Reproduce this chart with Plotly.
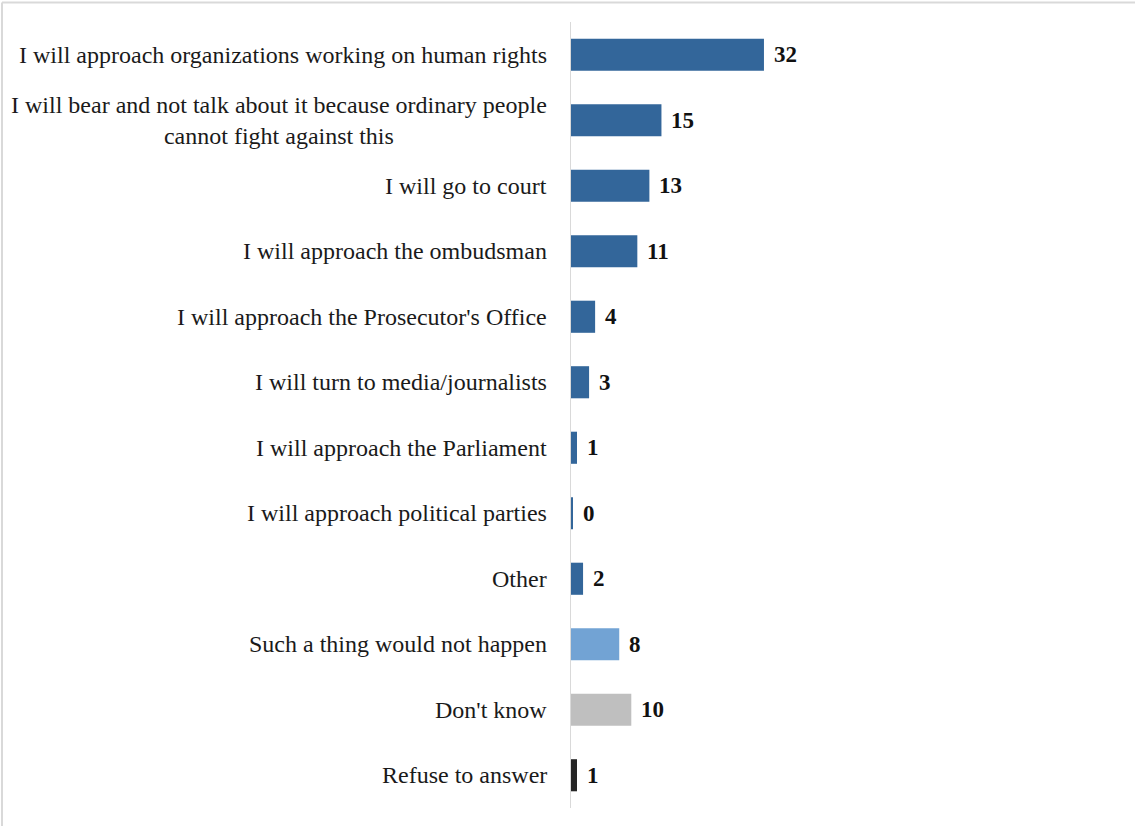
import plotly.graph_objects as go

categories = [
    "I will approach organizations working on human rights",
    "I will bear and not talk about it because ordinary people<br>cannot fight against this",
    "I will go to court",
    "I will approach the ombudsman",
    "I will approach the Prosecutor's Office",
    "I will turn to media/journalists",
    "I will approach the Parliament",
    "I will approach political parties",
    "Other",
    "Such a thing would not happen",
    "Don't know",
    "Refuse to answer",
]
values = [32, 15, 13, 11, 4, 3, 1, 0.3, 2, 8, 10, 1]
value_labels = ["32", "15", "13", "11", "4", "3", "1", "0", "2", "8", "10", "1"]
bar_colors = ["#33669A"] * 9 + ["#72A3D4", "#BFBFBF", "#262626"]

W, H = 1135, 826
L, R, T, B = 571, 25, 22, 18
pw, ph = W - L - R, H - T - B
FONT = "Liberation Serif"

fig = go.Figure(go.Bar(
    y=categories, x=values, orientation="h",
    marker=dict(color=bar_colors, line=dict(width=0)),
    width=0.49,
    hoverinfo="skip",
))

ann = []
for c, v, t in zip(categories, values, value_labels):
    ann.append(dict(x=0, y=c, xref="x", yref="y", text=c, showarrow=False,
                    xanchor="right", yanchor="middle", align="center", xshift=-22,
                    font=dict(family=FONT, size=24, color="#1a1a1a")))
    ann.append(dict(x=v, y=c, xref="x", yref="y", text="<b>" + t + "</b>", showarrow=False,
                    xanchor="left", yanchor="middle", xshift=8,
                    font=dict(family=FONT, size=23, color="#111111")))

def px_x(p):
    return (p - L) / pw

def px_y(p):
    return 1 - (p - T) / ph

shapes = [
    dict(type="line", xref="paper", yref="paper", x0=px_x(2), x1=px_x(1140),
         y0=px_y(2.5), y1=px_y(2.5), line=dict(color="#d9d9d9", width=2)),
    dict(type="line", xref="paper", yref="paper", x0=px_x(2), x1=px_x(2),
         y0=px_y(2.5), y1=px_y(830), line=dict(color="#d9d9d9", width=2)),
]

fig.update_layout(
    width=W, height=H,
    margin=dict(l=L, r=R, t=T, b=B, pad=0),
    paper_bgcolor="white", plot_bgcolor="white",
    showlegend=False,
    annotations=ann,
    shapes=shapes,
    xaxis=dict(range=[0, pw / 6.03], visible=False, fixedrange=True),
    yaxis=dict(autorange="reversed", showticklabels=False, ticks="",
               showgrid=False, zeroline=False, showline=True,
               linecolor="#d9d9d9", linewidth=1, fixedrange=True),
    font=dict(family=FONT),
)

fig.write_html("out.html", config=dict(displayModeBar=False),
               post_script="document.body.style.margin='0';document.body.style.overflow='hidden';")
